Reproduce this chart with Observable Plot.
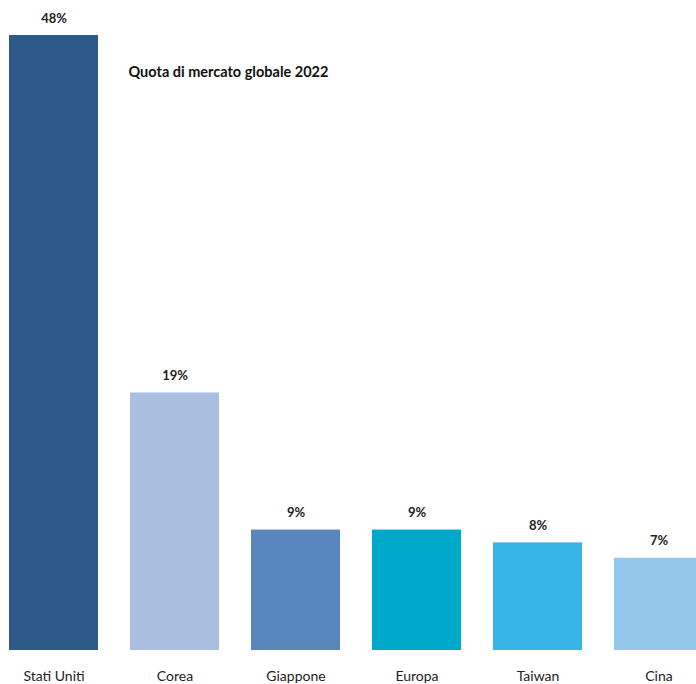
<!DOCTYPE html>
<html>
<head>
<meta charset="utf-8">
<script src="https://cdn.jsdelivr.net/npm/d3@7"></script>
<script src="https://cdn.jsdelivr.net/npm/@observablehq/plot@0.6"></script>
<style>
  html, body { margin: 0; padding: 0; background: #fff; }
  #chart svg { display: block; overflow: hidden; }
</style>
</head>
<body>
<div id="chart"></div>
<script>
const categories = ["Stati Uniti", "Corea", "Giappone", "Europa", "Taiwan", "Cina"];
const shares = [48, 20.1, 9.4, 9.4, 8.4, 7.2];
const shareLabels = ["48%", "19%", "9%", "9%", "8%", "7%"];
const colors = ["#2e5a8a", "#aabee0", "#5886bd", "#00a9c9", "#38b4e6", "#94c8ea"];
const title = "Quota di mercato globale 2022";

const data = categories.map((c, i) => ({cat: c, v: shares[i], label: shareLabels[i], color: colors[i]}));
const font = "Lato, 'Open Sans', sans-serif";

const chart = Plot.plot({
  width: 696,
  height: 684,
  marginLeft: 0,
  marginRight: 0,
  marginTop: 35,
  marginBottom: 34,
  style: {fontFamily: font, color: "#222", background: "#fff"},
  x: {domain: categories, range: [8, 703], paddingInner: 0.266, paddingOuter: 0, label: null},
  y: {domain: [0, 48], axis: null},
  marks: [
    Plot.barY(data, {x: "cat", y: "v", fill: "color"}),
    Plot.text(data, {x: "cat", y: "v", text: "label", dy: -13, lineAnchor: "bottom", fontWeight: "bold", fontSize: 13, fill: "#222"}),
    Plot.axisX({tickSize: 0, tickPadding: 21, fontSize: 14, fill: "#222"}),
    Plot.text([title], {frameAnchor: "top-left", dx: 128, dy: 41, lineAnchor: "bottom", textAnchor: "start", fontWeight: "bold", fontSize: 14.5, fill: "#111"})
  ]
});
document.getElementById("chart").append(chart);
</script>
</body>
</html>
